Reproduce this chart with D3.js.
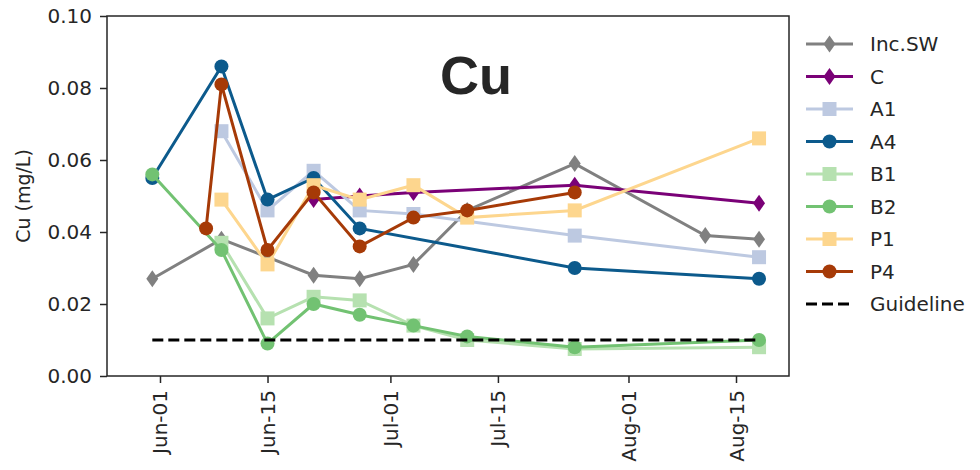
<!DOCTYPE html>
<html>
<head>
<meta charset="utf-8">
<script src="https://cdn.jsdelivr.net/npm/d3@7"></script>
<style>
  body { margin: 0; background: #fff; }
  text { font-family: "DejaVu Sans", sans-serif; fill: #262626; }
</style>
</head>
<body>
<svg id="graph" width="980" height="470"></svg>
<script>
// sampling dates
var dates = ["2021-05-31","2021-06-07","2021-06-09","2021-06-15","2021-06-21","2021-06-27",
             "2021-07-04","2021-07-11","2021-07-25","2021-08-11","2021-08-18"];

// Cu (mg/L) per site, null = not sampled
var incSW = [0.027, null, 0.038, 0.033, 0.028, 0.027, 0.031, 0.046, 0.059, 0.039, 0.038];
var siteC = [null, null, null, null, 0.049, 0.050, 0.051, null, 0.053, null, 0.048];
var siteA1 = [null, null, 0.068, 0.046, 0.057, 0.046, 0.045, null, 0.039, null, 0.033];
var siteA4 = [0.055, null, 0.086, 0.049, 0.055, 0.041, null, null, 0.030, null, 0.027];
var siteB1 = [null, null, 0.037, 0.016, 0.022, 0.021, 0.014, 0.010, 0.0075, null, 0.008];
var siteB2 = [0.056, null, 0.035, 0.009, 0.020, 0.017, 0.014, 0.011, 0.008, null, 0.010];
var siteP1 = [null, null, 0.049, 0.031, 0.053, 0.049, 0.053, 0.044, 0.046, null, 0.066];
var siteP4 = [null, 0.041, 0.081, 0.035, 0.051, 0.036, 0.044, 0.046, 0.051, null, null];
var guideline = 0.01;

var yTicks = [0, 0.02, 0.04, 0.06, 0.08, 0.10];
var xTicks = ["2021-06-01","2021-06-15","2021-07-01","2021-07-15","2021-08-01","2021-08-15"];

var series = [
    {name: "Inc.SW", values: incSW, color: "#808080", marker: "diamond"},
    {name: "C", values: siteC, color: "#7a0177", marker: "diamond"},
    {name: "A1", values: siteA1, color: "#bdc9e1", marker: "square"},
    {name: "A4", values: siteA4, color: "#0c5a8c", marker: "circle"},
    {name: "B1", values: siteB1, color: "#b6e1b0", marker: "square"},
    {name: "B2", values: siteB2, color: "#72c272", marker: "circle"},
    {name: "P1", values: siteP1, color: "#fdd68e", marker: "square"},
    {name: "P4", values: siteP4, color: "#a63a07", marker: "circle"}
]

var parse = d3.timeParse("%Y-%m-%d");
var margin = {left: 107, right: 789, top: 16, bottom: 376};

var svg = d3.select("#graph");

var xScale = d3.scaleTime()
    .domain([new Date(2021, 4, 25, 2, 24), new Date(2021, 7, 21, 21, 36)])
    .range([margin.left, margin.right]);

var yScale = d3.scaleLinear()
    .domain([0, 0.1])
    .range([margin.bottom, margin.top]);

var drawMarker = function(g, type, x, y, color)
{
    if (type == "circle") {
        g.append("circle").attr("cx", x).attr("cy", y).attr("r", 7).attr("fill", color);
    } else if (type == "square") {
        g.append("rect").attr("x", x - 7).attr("y", y - 7)
            .attr("width", 14).attr("height", 14).attr("fill", color);
    } else {
        g.append("path")
            .attr("d", "M" + x + "," + (y - 8.5) + "L" + (x + 6) + "," + y +
                       "L" + x + "," + (y + 8.5) + "L" + (x - 6) + "," + y + "Z")
            .attr("fill", color);
    }
}

var line = d3.line()
    .x(function(d) { return xScale(d.date); })
    .y(function(d) { return yScale(d.value); });

var plot = svg.append("g");

series.forEach(function(s)
{
    var pts = [];
    s.values.forEach(function(v, i)
    {
        if (v != null) pts.push({date: parse(dates[i]), value: v});
    })
    var g = plot.append("g");
    g.append("path")
        .attr("d", line(pts))
        .attr("fill", "none")
        .attr("stroke", s.color)
        .attr("stroke-width", 3);
    pts.forEach(function(p)
    {
        drawMarker(g, s.marker, xScale(p.date), yScale(p.value), s.color);
    })
})

// guideline
plot.append("path")
    .attr("d", line([{date: parse(dates[0]), value: guideline},
                     {date: parse(dates[dates.length - 1]), value: guideline}]))
    .attr("stroke", "#000")
    .attr("stroke-width", 3)
    .attr("stroke-dasharray", "11,5");

// axes
var xAxis = svg.append("g")
    .attr("transform", "translate(0," + margin.bottom + ")")
    .call(d3.axisBottom(xScale)
        .tickValues(xTicks.map(parse))
        .tickFormat(d3.timeFormat("%b-%d"))
        .tickSizeOuter(0).tickSize(7));
xAxis.select(".domain").remove();
xAxis.selectAll("text")
    .attr("font-size", 20)
    .attr("font-family", "DejaVu Sans")
    .attr("fill", "#262626")
    .attr("transform", "rotate(-90)")
    .attr("text-anchor", "end")
    .attr("x", -14)
    .attr("y", 0)
    .attr("dy", "0.35em");

var yAxis = svg.append("g")
    .attr("transform", "translate(" + margin.left + ",0)")
    .call(d3.axisLeft(yScale)
        .tickValues(yTicks)
        .tickFormat(d3.format(".2f"))
        .tickSizeOuter(0).tickSize(7).tickPadding(8));
yAxis.select(".domain").remove();
yAxis.selectAll("text")
    .attr("font-size", 20)
    .attr("font-family", "DejaVu Sans")
    .attr("fill", "#262626");

svg.selectAll(".tick line").attr("stroke", "#262626").attr("stroke-width", 1.5);

svg.append("rect")
    .attr("x", margin.left)
    .attr("y", margin.top)
    .attr("width", margin.right - margin.left)
    .attr("height", margin.bottom - margin.top)
    .attr("fill", "none")
    .attr("stroke", "#262626")
    .attr("stroke-width", 1.5);

svg.append("text")
    .attr("transform", "translate(30,196) rotate(-90)")
    .attr("text-anchor", "middle")
    .attr("font-size", 19)
    .text("Cu (mg/L)");

svg.append("text")
    .attr("x", 476)
    .attr("y", 94)
    .attr("text-anchor", "middle")
    .style("font-family", "'Liberation Sans', Arial, sans-serif")
    .attr("font-weight", "bold")
    .attr("font-size", 54)
    .text("Cu");

// legend
var legend = svg.append("g");
var legendItems = series.concat([{name: "Guideline", color: "#000", marker: "none"}]);
legendItems.forEach(function(s, i)
{
    var y = 44 + i * 32.5;
    var g = legend.append("g");
    var seg = g.append("line")
        .attr("x1", 806).attr("x2", 853)
        .attr("y1", y).attr("y2", y)
        .attr("stroke", s.color)
        .attr("stroke-width", 3);
    if (s.marker == "none") {
        seg.attr("stroke-dasharray", "11,5");
    } else {
        drawMarker(g, s.marker, 829.5, y, s.color);
    }
    g.append("text")
        .attr("x", 870)
        .attr("y", y)
        .attr("dy", "0.35em")
        .attr("font-size", 20)
        .text(s.name);
})
</script>
</body>
</html>
